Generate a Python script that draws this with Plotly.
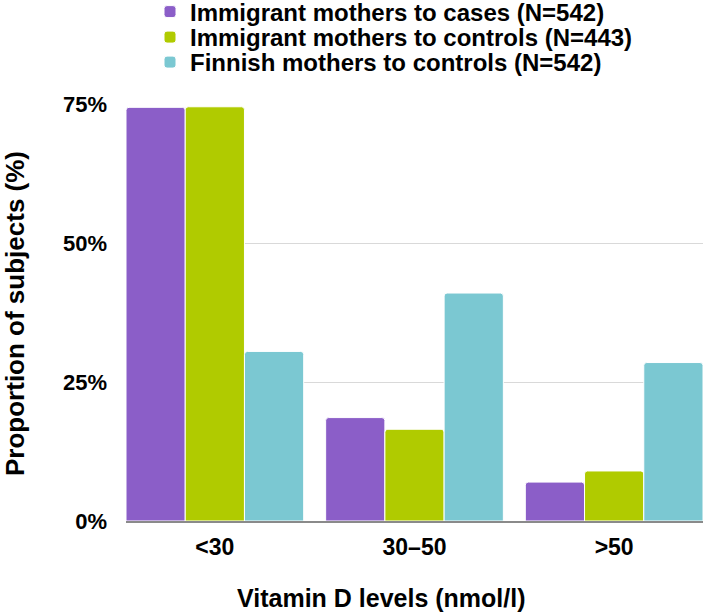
import plotly.graph_objects as go

categories = ["<30", "30–50", ">50"]
series_names = [
    "Immigrant mothers to cases (N=542)",
    "Immigrant mothers to controls (N=443)",
    "Finnish mothers to controls (N=542)",
]
cases_vals = [74.4, 18.6, 7.0]
imm_controls_vals = [74.5, 16.5, 9.0]
finnish_controls_vals = [30.5, 41.0, 28.5]
colors = ["#8B5EC8", "#B0CB00", "#7BC8D2"]
y_ticks = [0, 25, 50, 75]
y_tick_labels = ["0%", "25%", "50%", "75%"]

FONT = "Liberation Sans, Arial, sans-serif"
W, H = 703, 615
ML, MR, MT, MB = 126, 0, 104, 94
PW = W - ML - MR
PH = H - MT - MB

def px_x(x):
    return (x - ML) / PW

def px_y(y):
    return (H - MB - y) / PH

fig = go.Figure()
legend_ids = ["legend", "legend2", "legend3"]
legend_rows = [12, 37.5, 62.5]
for name, vals, col, lid in zip(series_names,
                                [cases_vals, imm_controls_vals, finnish_controls_vals],
                                colors, legend_ids):
    fig.add_trace(go.Bar(
        x=categories, y=vals, name=name,
        marker=dict(color=col, line=dict(color="white", width=1), cornerradius=3),
        legend=lid,
        hoverinfo="x+y+name",
    ))

layout_legends = {}
for lid, row in zip(legend_ids, legend_rows):
    layout_legends[lid] = dict(
        xref="container", yref="container",
        x=150 / W, y=1 - row / H, xanchor="left", yanchor="middle",
        font=dict(family=FONT, size=24, color="black", weight="bold"),
        bgcolor="rgba(0,0,0,0)", borderwidth=0, itemwidth=30,
    )

fig.update_layout(
    width=W, height=H,
    margin=dict(l=ML, r=MR, t=MT, b=MB, pad=0, autoexpand=False),
    paper_bgcolor="white", plot_bgcolor="white",
    barmode="group", bargap=0.11, bargroupgap=0.0,
    showlegend=True,
    font=dict(family=FONT, color="black"),
    xaxis=dict(
        range=[-0.445, 2.445],
        showline=True, linecolor="#8a8a8a", linewidth=1.5,
        showgrid=False, ticks="",
        tickfont=dict(family=FONT, size=23, color="black", weight="bold"),
        ticklabelstandoff=5,
    ),
    yaxis=dict(
        range=[0, 75],
        tickvals=y_ticks, ticktext=y_tick_labels,
        showgrid=True, gridcolor="#d9d9d9", gridwidth=1,
        zeroline=False, showline=False, ticks="",
        tickfont=dict(family=FONT, size=22, color="black", weight="bold"),
        ticklabelstandoff=18,
    ),
    annotations=[
        dict(
            text="Vitamin D levels (nmol/l)", xref="paper", yref="paper",
            x=px_x(381), y=px_y(598), xanchor="center", yanchor="middle",
            showarrow=False,
            font=dict(family=FONT, size=25, color="black", weight="bold"),
        ),
        dict(
            text="Proportion of subjects (%)", xref="paper", yref="paper",
            x=px_x(15), y=px_y(314), xanchor="center", yanchor="middle",
            textangle=-90, showarrow=False,
            font=dict(family=FONT, size=26, color="black", weight="bold"),
        ),
    ],
    **layout_legends,
)

fig.write_html("out.html")
